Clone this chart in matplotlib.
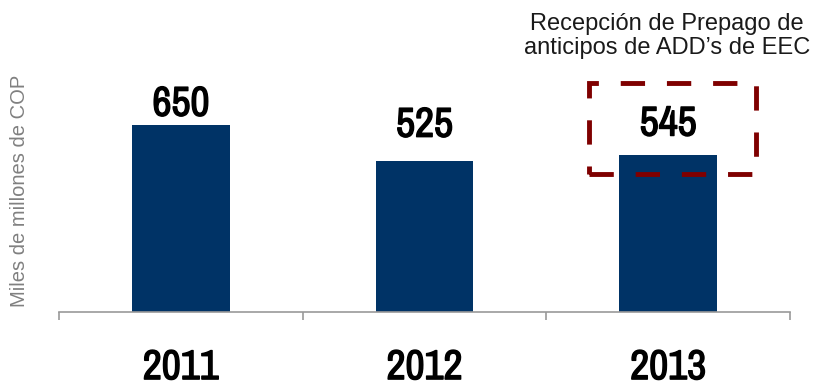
import matplotlib.pyplot as plt
import matplotlib.patheffects as pe
from matplotlib.patches import Rectangle

years = ['2011', '2012', '2013']
values = [650, 525, 545]
label_gap = [8, 60, 44]  # distancia etiqueta-barra (unidades de datos)

bar_color = '#003366'
box_color = '#7f0000'
narrow = ['Archivo Narrow', 'DejaVu Sans']
# Archivo Narrow solo tiene peso normal: se engrosa con un trazo
bold = [pe.withStroke(linewidth=1.0, foreground='black')]

fig = plt.figure(figsize=(8.17, 3.83), dpi=100)
ax = fig.add_axes([59 / 817, 1 - 312 / 383, 731 / 817, 312 / 383])

x = range(len(years))
ax.bar(x, values, width=0.4, color=bar_color)

for i, v in enumerate(values):
    ax.text(i, v + label_gap[i], str(v), ha='center', va='bottom',
            fontsize=30, family=narrow, path_effects=bold)

ax.set_xlim(-0.5, len(years) - 0.5)
ax.set_ylim(0, 312 / 187 * 650)

for s in ['top', 'right', 'left']:
    ax.spines[s].set_visible(False)
ax.spines['bottom'].set_color('#999999')
ax.spines['bottom'].set_linewidth(1.2)

ax.set_yticks([])
ax.set_xticks(list(x))
ax.set_xticklabels(years, fontsize=30, family=narrow)
for lbl in ax.get_xticklabels():
    lbl.set_path_effects(bold)
ax.tick_params(axis='x', which='major', length=0, pad=26)
ax.set_xticks([i - 0.5 for i in range(len(years) + 1)], minor=True)
ax.tick_params(axis='x', which='minor', length=6, width=1.2, color='#999999')

fig.text(20 / 817, 1 - 191 / 383, 'Miles de millones de COP', rotation=90,
         ha='center', va='center', fontsize=14.5, color='#808080',
         family='Liberation Sans')

# recuadro punteado sobre 2013
ax.add_patch(Rectangle((2 - 0.325, values[2] - 65), 0.685, 316, fill=False,
                       edgecolor=box_color, linewidth=3.5,
                       linestyle=(0, (5, 4.5)), clip_on=False))

fig.text(667 / 817, 1 - 36 / 383, 'Recepción de Prepago de\nanticipos de ADD’s de EEC',
         ha='center', va='center', fontsize=17, color='#1a1a1a',
         family='Liberation Sans', linespacing=1.1)

fig.savefig('out.png', dpi=100)
